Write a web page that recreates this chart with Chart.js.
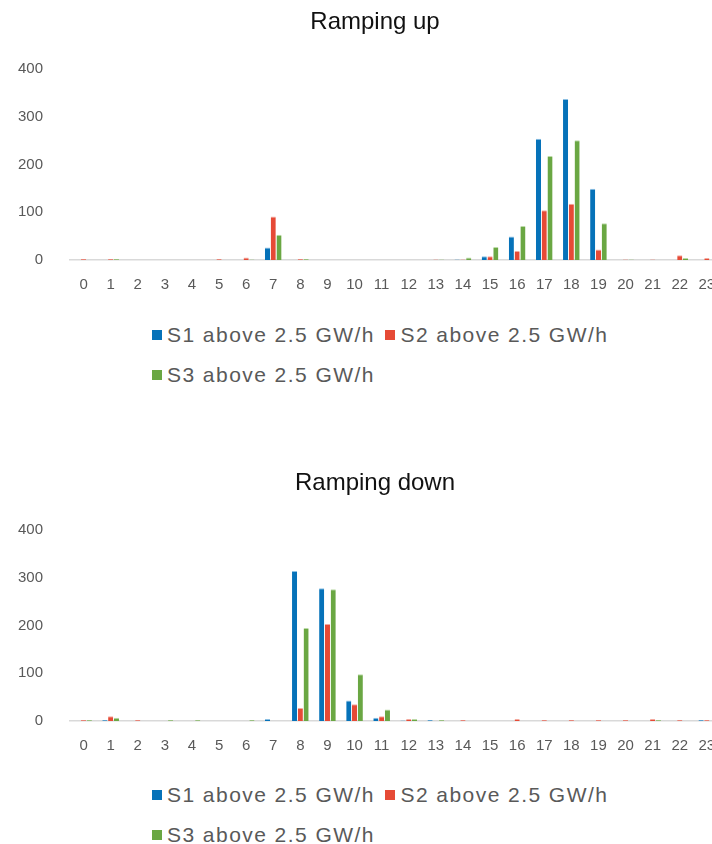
<!DOCTYPE html>
<html>
<head>
<meta charset="utf-8">
<script src="https://cdn.jsdelivr.net/npm/chart.js@4/dist/chart.umd.min.js"></script>
<style>
    html, body { margin: 0; padding: 0; background: #fff; overflow: hidden; }
    #page { position: relative; width: 712px; height: 844px; overflow: hidden; }
    canvas { position: absolute; left: 0; display: block; }
    .legend { position: absolute; left: 152px; font-family: "Liberation Sans", Arial, sans-serif; font-size: 21px; letter-spacing: 1.45px; color: #595959; white-space: nowrap; }
    .row { height: 40px; display: flex; align-items: center; }
    .item { display: flex; align-items: center; margin-right: 10.5px; }
    .sw { width: 10px; height: 10px; margin-right: 5px; }
</style>
</head>
<body>
<div id="page">
    <canvas id="up-chart" width="750" height="296" style="top:0"></canvas>
    <div class="legend" id="up-legend" style="top:315px"></div>
    <canvas id="down-chart" width="750" height="296" style="top:461px"></canvas>
    <div class="legend" id="down-legend" style="top:775px"></div>
</div>
<script>
const hours = ['0','1','2','3','4','5','6','7','8','9','10','11','12','13','14','15','16','17','18','19','20','21','22','23'];
const yTicks = [0, 100, 200, 300, 400];
const seriesNames = ['S1 above 2.5 GW/h', 'S2 above 2.5 GW/h', 'S3 above 2.5 GW/h'];

// Ramping up
const upS1 = [0, 0, 0, 0, 0, 0, 0, 26, 0, 0, 0, 0, 0, 0, 1, 8, 49, 254, 337, 149, 0, 0, 0, 0];
const upS2 = [2, 2, 0, 0, 0, 2, 5, 91, 2, 0, 0, 0, 0, 1, 1, 8, 19, 104, 118, 22, 1, 1, 10, 4];
const upS3 = [0, 2, 0, 0, 0, 0, 1, 53, 2, 0, 0, 0, 0, 1, 5, 27, 71, 218, 251, 77, 1, 0, 4, 0];

// Ramping down
const downS1 = [0, 2, 0, 0, 0, 0, 0, 4, 314, 278, 43, 7, 1, 2, 0, 0, 0, 0, 0, 0, 0, 0, 0, 2];
const downS2 = [2, 10, 2, 0, 0, 0, 0, 0, 27, 203, 35, 10, 4, 0, 2, 0, 4, 2, 2, 2, 2, 4, 2, 2];
const downS3 = [2, 7, 0, 2, 2, 0, 2, 0, 195, 276, 98, 24, 4, 2, 0, 0, 0, 0, 0, 0, 0, 2, 0, 0];

const colors = ['#0672B9', '#E64A36', '#6AA743'];
const edgeColors = ['#8CC0E3', '#F4AA9F', '#BCDAA8'];
const FONT = '"Liberation Sans", Arial, sans-serif';

const makeDatasets = (series) => series.map((data, i) => ({
    label: seriesNames[i],
    data,
    yAxisID: 'y',
    backgroundColor: colors[i],
    borderColor: edgeColors[i],
    borderWidth: { top: 1, right: 0, left: 0, bottom: 0 },
    categoryPercentage: 0.64,
    barPercentage: 0.88
}));

const makeChart = (id, title, series) => {
    const ctx = document.getElementById(id).getContext('2d');
    return new Chart(ctx, {
        type: 'bar',
        data: { labels: hours, datasets: makeDatasets(series) },
        options: {
            responsive: false,
            animation: false,
            layout: { padding: { left: 15, right: 15, top: 0, bottom: 0 } },
            plugins: {
                legend: { display: false },
                tooltip: { enabled: false },
                title: {
                    display: true,
                    text: title,
                    color: '#111',
                    font: { family: FONT, size: 24, weight: 'normal' },
                    padding: { top: 7.6, bottom: 32.6 }
                }
            },
            scales: {
                x: {
                    grid: { display: false, drawTicks: false },
                    border: { display: true, color: '#d9d9d9', width: 1.5 },
                    ticks: { color: '#595959', font: { family: FONT, size: 15 }, padding: 16, maxRotation: 0, autoSkip: false },
                    afterFit: (s) => { s.height = 34; }
                },
                y: {
                    min: yTicks[0],
                    max: yTicks[yTicks.length - 1],
                    grid: { display: false, drawTicks: false },
                    border: { display: false },
                    afterBuildTicks: (s) => { s.ticks = yTicks.map(v => ({ value: v })); },
                    ticks: { color: '#595959', font: { family: FONT, size: 15 }, padding: 27 },
                    afterFit: (s) => { s.width = 55; }
                },
                // empty right-hand spacer so the title centres like the original
                spacer: {
                    type: 'linear',
                    position: 'right',
                    display: true,
                    grid: { display: false, drawTicks: false },
                    border: { display: false },
                    ticks: { display: false },
                    afterFit: (s) => { s.width = 14.6; }
                }
            }
        }
    });
};

const buildLegend = (id) => {
    const box = document.getElementById(id);
    const rows = [[0, 1], [2]];
    rows.forEach(idxs => {
        const row = document.createElement('div');
        row.className = 'row';
        idxs.forEach(i => {
            const item = document.createElement('div');
            item.className = 'item';
            item.innerHTML = `<span class="sw" style="background:${colors[i]}"></span><span>${seriesNames[i]}</span>`;
            row.appendChild(item);
        });
        box.appendChild(row);
    });
};

makeChart('up-chart', 'Ramping up', [upS1, upS2, upS3]);
makeChart('down-chart', 'Ramping down', [downS1, downS2, downS3]);
buildLegend('up-legend');
buildLegend('down-legend');
</script>
</body>
</html>
